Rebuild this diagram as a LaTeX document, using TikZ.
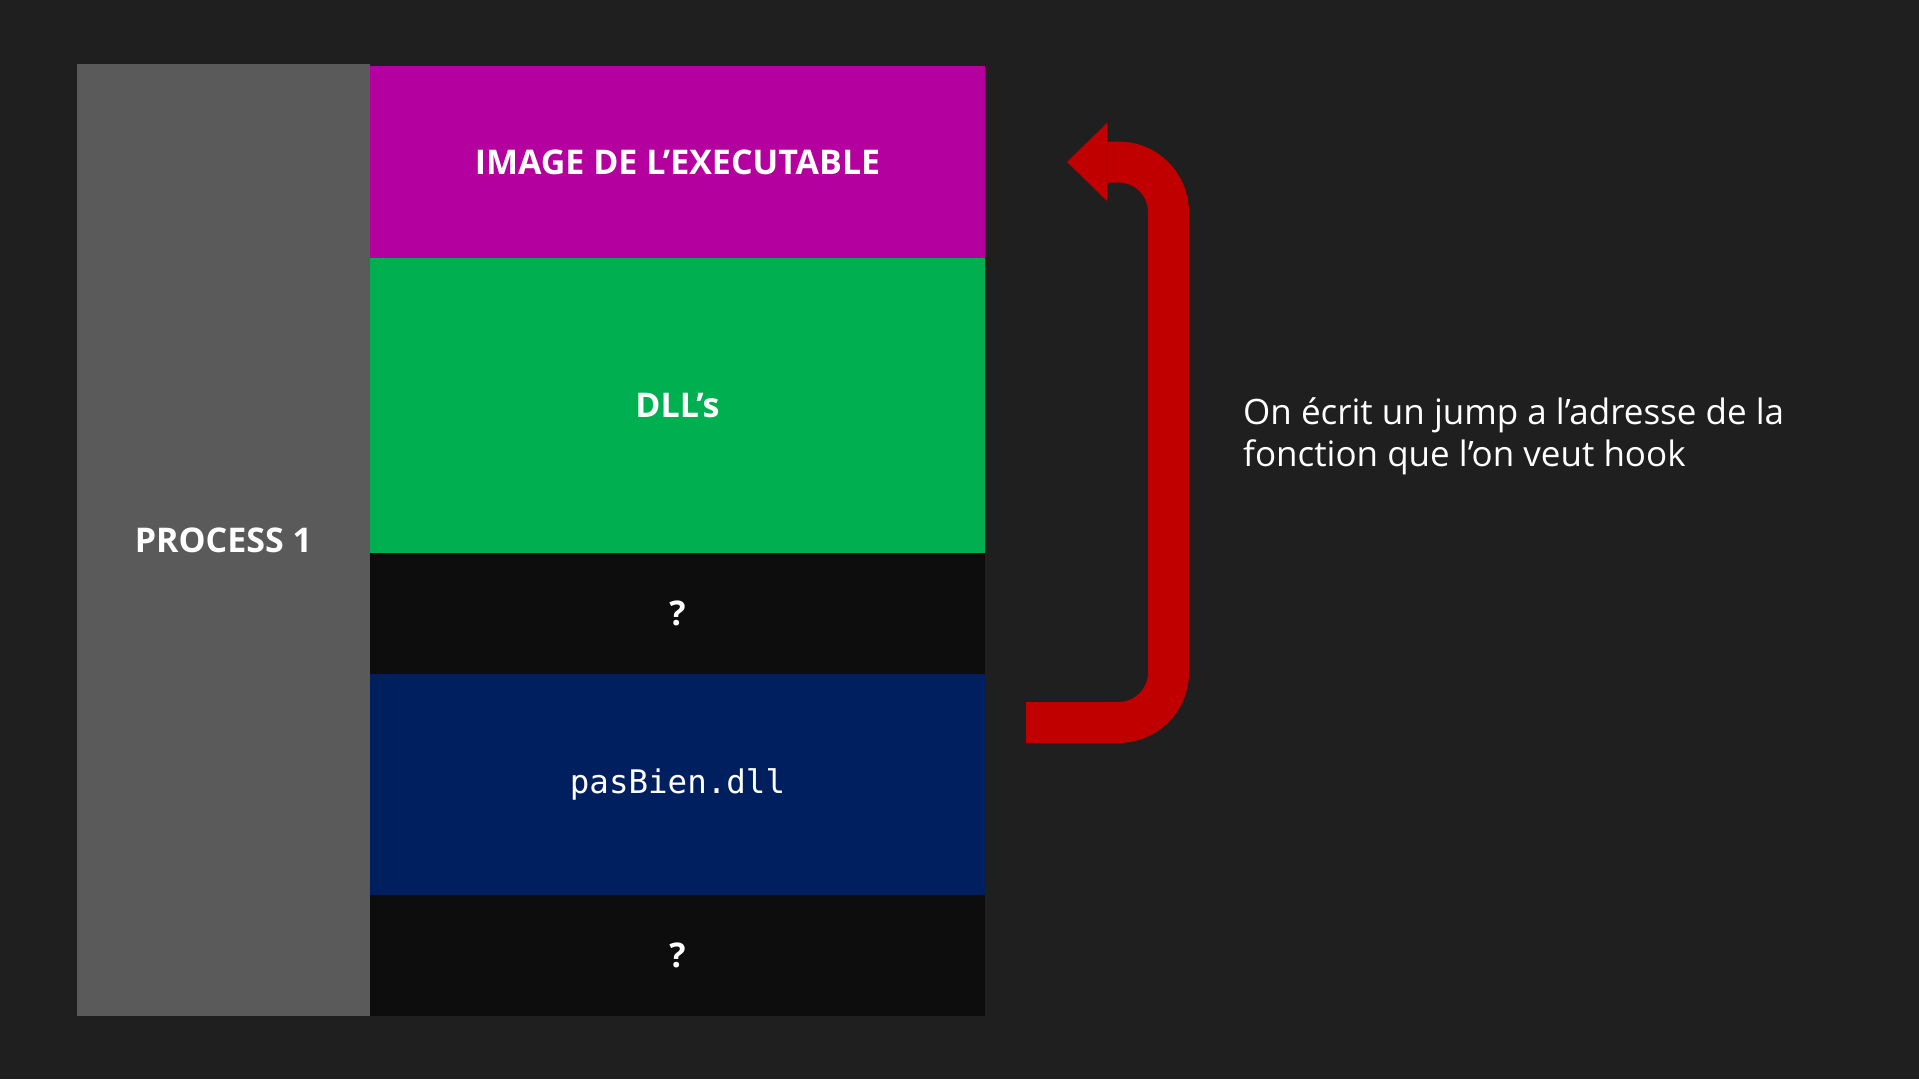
\documentclass[tikz,border=0pt]{standalone}
\usepackage{fontspec}
\setmainfont{Open Sans}
\setmonofont{DejaVu Sans Mono}
\definecolor{bg}{HTML}{1F1F1F}
\definecolor{procgrey}{HTML}{5A5A5A}
\definecolor{imgpurple}{HTML}{B4009E}
\definecolor{dllgreen}{HTML}{00B050}
\definecolor{voidblack}{HTML}{0D0D0D}
\definecolor{badnavy}{HTML}{001F5F}
\definecolor{hookred}{HTML}{C00000}
\begin{document}
\begin{tikzpicture}[x=1pt,y=-1pt,
  blk/.style={draw=none, inner sep=0pt, outer sep=0pt, text=white, font=\fontsize{34}{40}\selectfont\bfseries, text height=24.3pt, text depth=0pt, minimum width=615pt},
  note/.style={text=white, align=left, anchor=north west, inner sep=0pt, font=\fontsize{35}{42}\selectfont}]
\useasboundingbox[fill=bg] (0,0) rectangle (1919,1079);
\node[blk, fill=procgrey, minimum width=293pt, minimum height=952pt] (proc) at (223.5,540) {PROCESS 1};
\node[blk, fill=imgpurple, minimum height=192pt] (img) at (677.5,162) {IMAGE DE L’EXECUTABLE};
\node[blk, fill=dllgreen, minimum height=295pt] (dll) at (677.5,405.5) {DLL’s};
\node[blk, fill=voidblack, minimum height=121pt] (q1) at (677.5,613.5) {?};
\node[blk, fill=badnavy, minimum height=221pt, font=\fontsize{32.5}{36}\selectfont\ttfamily, text height=24.7pt, text depth=7.6pt] (bad) at (677.5,784.5) {pasBien.dll};
\node[blk, fill=voidblack, minimum height=121pt] (q2) at (677.5,955.5) {?};
\coordinate (start) at (1026,722.5);
\coordinate (c1) at (1168.5,722.5);
\coordinate (c2) at (1168.5,162);
\coordinate (headbase) at (1107,162);
\draw[hookred, line width=41pt, rounded corners=50pt] (start) -- (c1) -- (c2) -- ([xshift=1pt]headbase);
\fill[hookred] (1107,123) -- (1067,162) -- (1107,201) -- cycle;
\node[note] (txt) at (1243,397.5) {On écrit un jump a l’adresse de la\\fonction que l’on veut hook};
\end{tikzpicture}
\end{document}
